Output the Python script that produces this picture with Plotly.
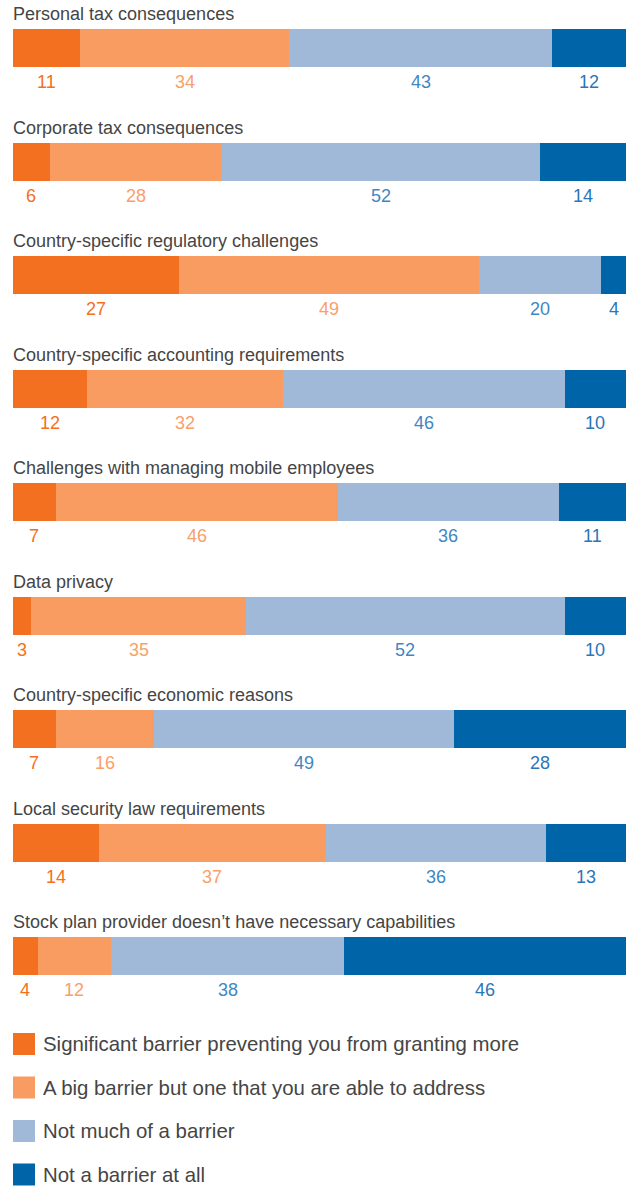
import plotly.graph_objects as go

categories = [
    "Personal tax consequences",
    "Corporate tax consequences",
    "Country-specific regulatory challenges",
    "Country-specific accounting requirements",
    "Challenges with managing mobile employees",
    "Data privacy",
    "Country-specific economic reasons",
    "Local security law requirements",
    "Stock plan provider doesn’t have necessary capabilities",
]
series_names = [
    "Significant barrier preventing you from granting more",
    "A big barrier but one that you are able to address",
    "Not much of a barrier",
    "Not a barrier at all",
]
significant = [11, 6, 27, 12, 7, 3, 7, 14, 4]
big_addressable = [34, 28, 49, 32, 46, 35, 16, 37, 12]
not_much = [43, 52, 20, 46, 36, 52, 49, 36, 38]
not_at_all = [12, 14, 4, 10, 11, 10, 28, 13, 46]

series_values = [significant, big_addressable, not_much, not_at_all]
bar_colors = ["#F37021", "#F89C62", "#A1B9D9", "#0064A8"]
label_colors = ["#F37021", "#F9A06A", "#3F87C3", "#2A76B8"]

W, H = 634, 1186
row_px = 113.5
first_center_px = 48
rows = list(range(len(categories)))

fig = go.Figure()
for name, vals, col in zip(series_names, series_values, bar_colors):
    fig.add_trace(go.Bar(
        x=vals, y=rows, orientation="h", name=name,
        marker=dict(color=col, line=dict(width=0)),
        width=38 / row_px, showlegend=False, hoverinfo="skip",
    ))

annotations = []
title_off = (first_center_px - 14) / row_px
label_off = 34 / row_px
for i, cat in enumerate(categories):
    annotations.append(dict(
        x=0, y=i - title_off, xref="x", yref="y", text=cat, showarrow=False,
        xanchor="left", yanchor="middle", xshift=-2,
        font=dict(size=18, color="#454545", family="Liberation Sans"),
    ))
    cum = 0
    for vals, lc in zip(series_values, label_colors):
        v = vals[i]
        annotations.append(dict(
            x=cum + v / 2, y=i + label_off, xref="x", yref="y", text=str(v),
            showarrow=False, xanchor="center", yanchor="middle",
            font=dict(size=18, color=lc, family="Liberation Sans"),
        ))
        cum += v

# legend drawn manually (large square swatches)
shapes = []
legend_centers_px = [1044, 1087.5, 1131, 1174.5]
for name, col, cy in zip(series_names, bar_colors, legend_centers_px):
    shapes.append(dict(
        type="rect", xref="paper", yref="paper",
        x0=0, x1=22 / (W - 13 - 8),
        y0=1 - (cy + 11) / H, y1=1 - (cy - 11) / H,
        fillcolor=col, line=dict(width=0), layer="above",
    ))
    annotations.append(dict(
        x=28 / (W - 13 - 8), y=1 - cy / H, xref="paper", yref="paper",
        text=name, showarrow=False, xanchor="left", yanchor="middle",
        font=dict(size=20.4, color="#454545", family="Liberation Sans"),
    ))

y_top = -first_center_px / row_px
y_bot = (H - first_center_px) / row_px
fig.update_layout(
    width=W, height=H, barmode="stack",
    margin=dict(l=13, r=8, t=0, b=0, pad=0),
    paper_bgcolor="white", plot_bgcolor="white",
    xaxis=dict(range=[0, 100], visible=False, fixedrange=True),
    yaxis=dict(range=[y_bot, y_top], visible=False, fixedrange=True),
    annotations=annotations, shapes=shapes, bargap=0,
)
fig.write_html("out.html", config={"displayModeBar": False},
               post_script="document.body.style.margin='0';")
